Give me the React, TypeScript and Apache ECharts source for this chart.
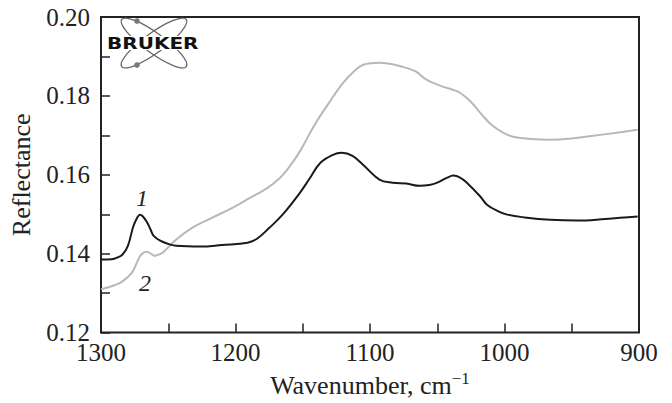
import React, { useEffect, useRef } from "react";
import * as echarts from "echarts";

// Curve 1 (black)
const wavenumbers1 = [1300,1292,1288,1284,1280,1276,1273,1271,1269,1266,1263,1261,1256,1250,1244,1226,1210,1191,1184,1175,1165,1152,1145,1137,1128,1121,1113,1105,1093,1083,1073,1063,1056,1050,1043,1038,1033,1028,1018,1013,1005,998,985,966,946,925,901];
const reflectance1 = [0.1385,0.1386,0.1390,0.1398,0.1420,0.1469,0.1492,0.1499,0.1495,0.1481,0.1460,0.1446,0.1433,0.1425,0.1420,0.1418,0.1422,0.1428,0.1438,0.1465,0.1499,0.1555,0.1590,0.1630,0.1650,0.1656,0.1648,0.1625,0.1588,0.1580,0.1578,0.1572,0.1574,0.1580,0.1592,0.1598,0.1593,0.1580,0.1545,0.1524,0.1508,0.1499,0.1492,0.1486,0.1484,0.1488,0.1494];

// Curve 2 (gray)
const wavenumbers2 = [1300,1290,1284,1277,1273,1270,1266,1263,1260,1257,1254,1244,1232,1218,1202,1190,1177,1167,1160,1152,1142,1130,1120,1112,1105,1093,1075,1066,1058,1048,1038,1033,1025,1018,1009,996,980,966,950,934,918,901];
const reflectance2 = [0.1310,0.1320,0.1330,0.1352,0.1380,0.1398,0.1405,0.1400,0.1395,0.1398,0.1403,0.1436,0.1466,0.1490,0.1517,0.1540,0.1565,0.1592,0.1620,0.1660,0.1722,0.1785,0.1833,0.1862,0.1879,0.1884,0.1873,0.1862,0.1841,0.1826,0.1815,0.1808,0.1785,0.1757,0.1725,0.1699,0.1691,0.1689,0.1692,0.1699,0.1706,0.1714];

const seriesLabels = ["1", "2"];

const SERIF = '"Liberation Serif", "Times New Roman", serif';

export default function App() {
  const ref = useRef<HTMLDivElement>(null);
  useEffect(() => {
    if (!ref.current) return;
    const chart = echarts.init(ref.current, null, { renderer: "svg" });
    const d1 = wavenumbers1.map((w, i) => [w, reflectance1[i]]);
    const d2 = wavenumbers2.map((w, i) => [w, reflectance2[i]]);
    chart.setOption({
      animation: false,
      backgroundColor: "#fff",
      grid: {
        left: 101,
        right: 33,
        top: 17,
        bottom: 70,
        show: true,
        borderColor: "#222",
        borderWidth: 2,
        backgroundColor: "transparent",
      },
      xAxis: {
        type: "value",
        inverse: true,
        min: 900,
        max: 1300,
        interval: 50,
        axisLine: { show: false },
        splitLine: { show: false },
        axisTick: { inside: true, length: 9, lineStyle: { color: "#222", width: 1.5 } },
        axisLabel: {
          margin: 7,
          fontSize: 25,
          fontFamily: SERIF,
          color: "#222",
          formatter: (v: number) => (Math.round(v) % 100 === 0 ? String(Math.round(v)) : ""),
        },
        name: "Wavenumber, cm{sup|−1}",
        nameLocation: "middle",
        nameGap: 33,
        nameTextStyle: {
          fontSize: 26,
          fontFamily: SERIF,
          color: "#222",
          rich: {
            sup: { fontSize: 17, fontFamily: SERIF, color: "#222", verticalAlign: "top", padding: [0, 0, 14, 0] },
          },
        },
      },
      yAxis: {
        type: "value",
        min: 0.12,
        max: 0.2,
        interval: 0.01,
        axisLine: { show: false },
        splitLine: { show: false },
        axisTick: { inside: true, length: 9, lineStyle: { color: "#222", width: 1.5 } },
        axisLabel: {
          margin: 11,
          fontSize: 25,
          fontFamily: SERIF,
          color: "#222",
          formatter: (v: number) => (Math.round(v * 100) % 2 === 0 ? v.toFixed(2) : ""),
        },
        name: "Reflectance",
        nameLocation: "middle",
        nameGap: 67,
        nameTextStyle: { fontSize: 26, fontFamily: SERIF, color: "#222" },
      },
      series: [
        {
          name: seriesLabels[0],
          type: "line",
          data: d1,
          showSymbol: false,
          smooth: 0.4,
          lineStyle: { color: "#1a1a1a", width: 2 },
          z: 3,
        },
        {
          name: seriesLabels[1],
          type: "line",
          data: d2,
          showSymbol: false,
          smooth: 0.4,
          lineStyle: { color: "#b8b8b8", width: 2 },
          z: 2,
        },
      ],
      graphic: [
        {
          type: "text",
          x: 142,
          y: 198,
          style: { text: seriesLabels[0], font: `italic 24px ${SERIF}`, fill: "#222", align: "center", verticalAlign: "middle" },
        },
        {
          type: "text",
          x: 145,
          y: 283,
          style: { text: seriesLabels[1], font: `italic 24px ${SERIF}`, fill: "#222", align: "center", verticalAlign: "middle" },
        },
        {
          type: "group",
          x: 154,
          y: 43,
          children: [
            { type: "ellipse", rotation: 0.63, shape: { cx: 0, cy: 0, rx: 40, ry: 10 }, style: { fill: "none", stroke: "#666", lineWidth: 1.3 } },
            { type: "ellipse", rotation: -0.63, shape: { cx: 0, cy: 0, rx: 40, ry: 10 }, style: { fill: "none", stroke: "#666", lineWidth: 1.3 } },
            { type: "circle", shape: { cx: -17, cy: -22, r: 2.8 }, style: { fill: "#777" } },
            { type: "circle", shape: { cx: -17, cy: 22, r: 2.8 }, style: { fill: "#777" } },
          ],
        },
        {
          type: "rect",
          shape: { x: 107, y: 36, width: 90, height: 14 },
          style: { fill: "#fff" },
        },
        {
          type: "text",
          x: 107,
          y: 43,
          scaleX: 1.25,
          style: { text: "BRUKER", font: 'bold 16px "DejaVu Sans"', fill: "#111", verticalAlign: "middle" },
        },
      ],
    });
    return () => chart.dispose();
  }, []);
  return <div ref={ref} style={{ position: "fixed", left: 0, top: 0, width: 672, height: 403 }} />;
}
